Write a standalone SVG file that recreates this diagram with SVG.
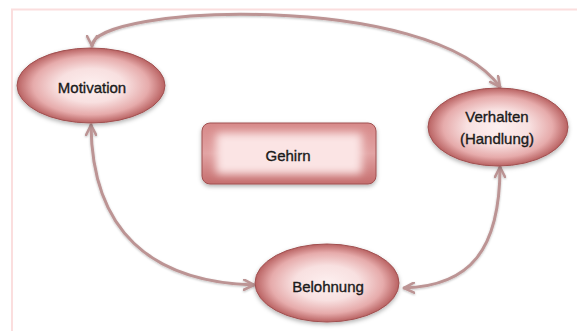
<svg xmlns="http://www.w3.org/2000/svg" width="577" height="331" viewBox="0 0 577 331">
  <defs>
    <radialGradient id="ellGrad" cx="50%" cy="50%" r="50%">
      <stop offset="0" stop-color="#fdf0f0"/>
      <stop offset="0.45" stop-color="#f8e0e0"/>
      <stop offset="0.78" stop-color="#e6abab"/>
      <stop offset="1" stop-color="#b96262"/>
    </radialGradient>
    <linearGradient id="rectGrad" x1="0" y1="0" x2="0" y2="1">
      <stop offset="0" stop-color="#d68888"/>
      <stop offset="0.5" stop-color="#e2a4a4"/>
      <stop offset="1" stop-color="#c46c6c"/>
    </linearGradient>
    <filter id="shadow" x="-20%" y="-20%" width="140%" height="150%">
      <feDropShadow dx="0" dy="2" stdDeviation="2" flood-color="#000" flood-opacity="0.3"/>
    </filter>
    <filter id="soft" x="-20%" y="-30%" width="140%" height="160%">
      <feGaussianBlur stdDeviation="4"/>
    </filter>
    <filter id="lineShadow" x="-10%" y="-10%" width="120%" height="120%">
      <feDropShadow dx="0" dy="1" stdDeviation="0.8" flood-color="#000" flood-opacity="0.25"/>
    </filter>
    <marker id="arrow" viewBox="0 0 12 12" markerWidth="12" markerHeight="12" refX="11" refY="6" orient="auto-start-reverse" markerUnits="userSpaceOnUse">
      <path d="M1,1 L11,6 L1,11" fill="none" stroke="#bc9494" stroke-width="2.6" stroke-linecap="round" stroke-linejoin="round"/>
    </marker>
    <style>
      .node-ell { fill: url(#ellGrad); stroke: #a05050; stroke-width: 1; filter: url(#shadow); }
      .label { font-family: "Liberation Sans", Arial, sans-serif; font-size: 15px; fill: #1a1a1a; stroke: #1a1a1a; stroke-width: 0.35; text-anchor: middle; }
      .conn { fill: none; stroke: #bc9494; stroke-width: 3; stroke-linecap: round; filter: url(#lineShadow); }
    </style>
  </defs>

  <rect width="577" height="331" fill="#ffffff"/>
  <path d="M12,331 V9.5 H577" fill="none" stroke="#fbdede" stroke-width="2"/>

  <g id="connectors">
    <path class="conn" d="M500,87 C430,-10 92,5 92,46" marker-end="url(#arrow)" marker-start="url(#arrow)"/>
    <path class="conn" d="M91,125 C92,230 150,282 254,285" marker-start="url(#arrow)" marker-end="url(#arrow)"/>
    <path class="conn" d="M500,167 C500,250 470,286 404,288" marker-start="url(#arrow)" marker-end="url(#arrow)"/>
  </g>

  <g id="motivation">
    <ellipse class="node-ell" cx="91" cy="85.5" rx="74" ry="37.5"/>
    <text class="label" x="92" y="93">Motivation</text>
  </g>

  <g id="verhalten">
    <ellipse class="node-ell" cx="498" cy="127" rx="70" ry="39"/>
    <text class="label" x="497" y="122">Verhalten</text>
    <text class="label" x="497" y="144">(Handlung)</text>
  </g>

  <g id="gehirn">
    <rect x="202" y="123" width="174" height="61" rx="8" fill="url(#rectGrad)" stroke="#a05050" stroke-width="1" filter="url(#shadow)"/>
    <rect x="216" y="133" width="146" height="41" rx="4" fill="#fbe4e4" filter="url(#soft)"/>
    <text class="label" x="288" y="161">Gehirn</text>
  </g>

  <g id="belohnung">
    <ellipse class="node-ell" cx="327" cy="283" rx="72" ry="39"/>
    <text class="label" x="328" y="292">Belohnung</text>
  </g>
</svg>
